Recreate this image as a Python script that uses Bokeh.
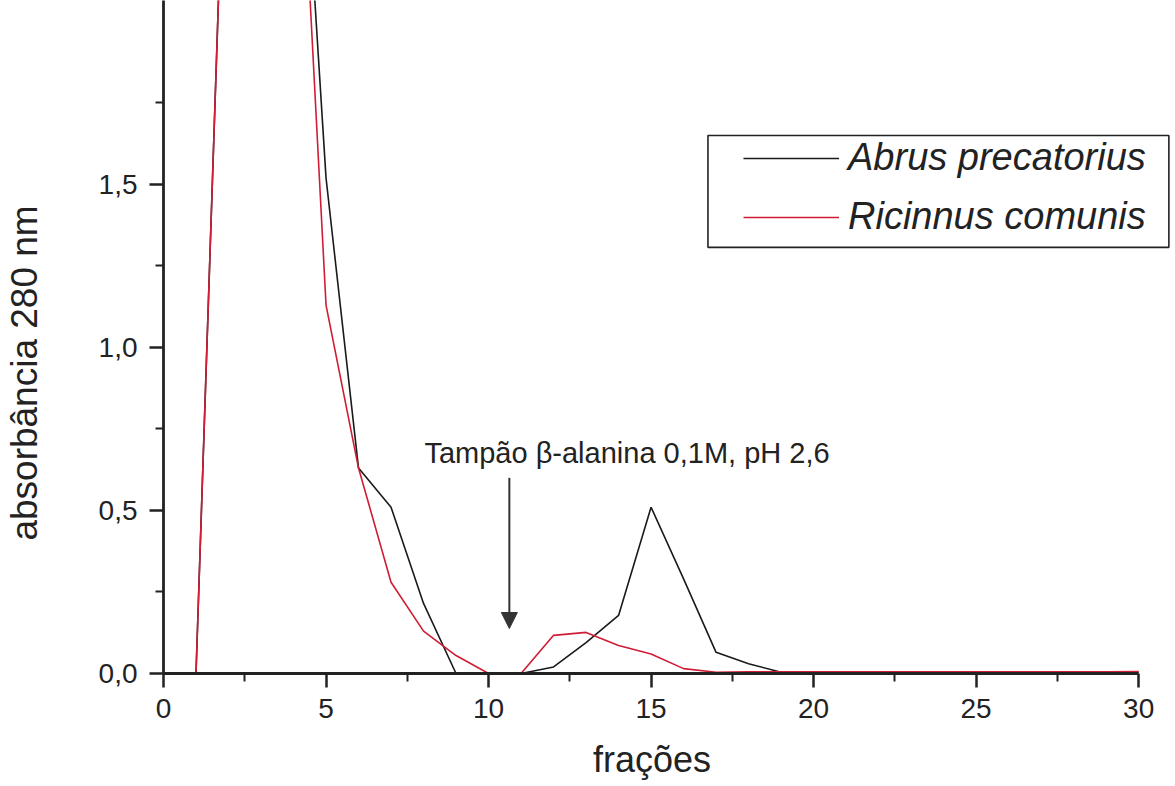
from bokeh.plotting import figure
from bokeh.models import (Range1d, FixedTicker, CustomJSTickFormatter, Legend, LegendItem,
                          Label, Arrow, NormalHead, BoxAnnotation)
from bokeh.embed import file_html
from bokeh.resources import INLINE

# ---- data ----
fractions = list(range(1, 31))
abrus = [0.0, 2.99, 3.4, 3.1, 1.52, 0.63, 0.51, 0.215, 0.0, 0.0,
         0.0, 0.02, 0.095, 0.178, 0.51, 0.29, 0.065, 0.03, 0.004, 0.004,
         0.004, 0.004, 0.004, 0.004, 0.004, 0.004, 0.004, 0.004, 0.004, 0.004]
ricinus = [0.0, 2.99, 3.3, 3.04, 1.13, 0.63, 0.28, 0.13, 0.055, 0.0,
           0.0, 0.117, 0.126, 0.086, 0.06, 0.015, 0.004, 0.005, 0.005, 0.005,
           0.005, 0.005, 0.005, 0.005, 0.005, 0.005, 0.005, 0.005, 0.005, 0.006]
series_names = ["Abrus precatorius", "Ricinnus comunis"]
x_ticks = [0, 5, 10, 15, 20, 25, 30]
x_minor = [2.5, 7.5, 12.5, 17.5, 22.5, 27.5]
y_ticks = [0.0, 0.5, 1.0, 1.5]
y_minor = [0.25, 0.75, 1.25, 1.75]
x_title = "frações"
y_title = "absorbância 280 nm"
annotation_text = "Tampão β-alanina 0,1M, pH 2,6"
arrow_x = 10.64
arrow_y = (0.60, 0.138)

FONT = "Liberation Sans"
INK = "#222222"
RED = "#d01c35"
NBSP = "\u00a0"

p = figure(width=1170, height=784, output_backend="svg", toolbar_location=None,
           x_range=Range1d(0, 30.98), y_range=Range1d(0, 2.064),
           min_border_left=162, min_border_right=0, min_border_top=0, min_border_bottom=111)
p.outline_line_color = None
p.grid.visible = False
p.background_fill_color = "white"

r_black = p.line(fractions, abrus, line_color="#1a1a1a", line_width=1.6)
r_red = p.line(fractions, ricinus, line_color=RED, line_width=1.6)

# axes
for ax in (p.xaxis[0], p.yaxis[0]):
    ax.axis_line_width = 2.8
    ax.axis_line_color = INK
    ax.major_tick_line_width = 2.5
    ax.minor_tick_line_width = 2
    ax.major_tick_line_color = INK
    ax.minor_tick_line_color = INK
    ax.major_tick_out = 14
    ax.major_tick_in = 0
    ax.minor_tick_out = 8
    ax.minor_tick_in = 0
    ax.major_label_text_font = FONT
    ax.major_label_text_font_size = "28px"
    ax.major_label_text_color = INK
    ax.axis_label_text_font = FONT
    ax.axis_label_text_font_style = "normal"
    ax.axis_label_text_color = INK

p.xaxis.ticker = FixedTicker(ticks=x_ticks, minor_ticks=x_minor)
p.xaxis.bounds = (0, 30)
p.xaxis.major_label_standoff = 11
p.xaxis.axis_label = x_title + NBSP * 3
p.xaxis.axis_label_text_font_size = "36px"
p.xaxis.axis_label_standoff = 18

p.yaxis.ticker = FixedTicker(ticks=y_ticks, minor_ticks=y_minor)
p.yaxis.formatter = CustomJSTickFormatter(code="return tick.toFixed(1).replace('.', ',');")
p.yaxis.major_label_standoff = 12
p.yaxis.axis_label = y_title + NBSP * 7
p.yaxis.axis_label_text_font_size = "37px"
p.yaxis.axis_label_standoff = 51

# annotation text + arrow
p.add_layout(Label(x=14.26, y=0.675, text=annotation_text, text_align="center",
                   text_baseline="alphabetic", text_font=FONT, text_font_size="29px",
                   text_color=INK))
p.add_layout(Arrow(x_start=arrow_x, y_start=arrow_y[0], x_end=arrow_x, y_end=arrow_y[1],
                   line_color="#333333", line_width=2,
                   end=NormalHead(size=16, fill_color="#333333", line_color="#333333")))

# legend box
p.add_layout(BoxAnnotation(left=16.75, right=30.93, top=1.650, bottom=1.307,
                           fill_color=None, fill_alpha=0, line_color=INK, line_width=1.6,
                           line_alpha=1))

legend = Legend(items=[LegendItem(label=series_names[0], renderers=[r_black]),
                       LegendItem(label=series_names[1], renderers=[r_red])],
                location=(580, 435), padding=0, margin=0, spacing=16,
                glyph_width=96, glyph_height=40, label_height=40, label_standoff=9,
                label_text_font=FONT, label_text_font_size="38px",
                label_text_font_style="italic", label_text_color=INK,
                border_line_color=None, background_fill_alpha=0)
p.add_layout(legend, "center")

open("out.html", "w").write(file_html(p, INLINE))
